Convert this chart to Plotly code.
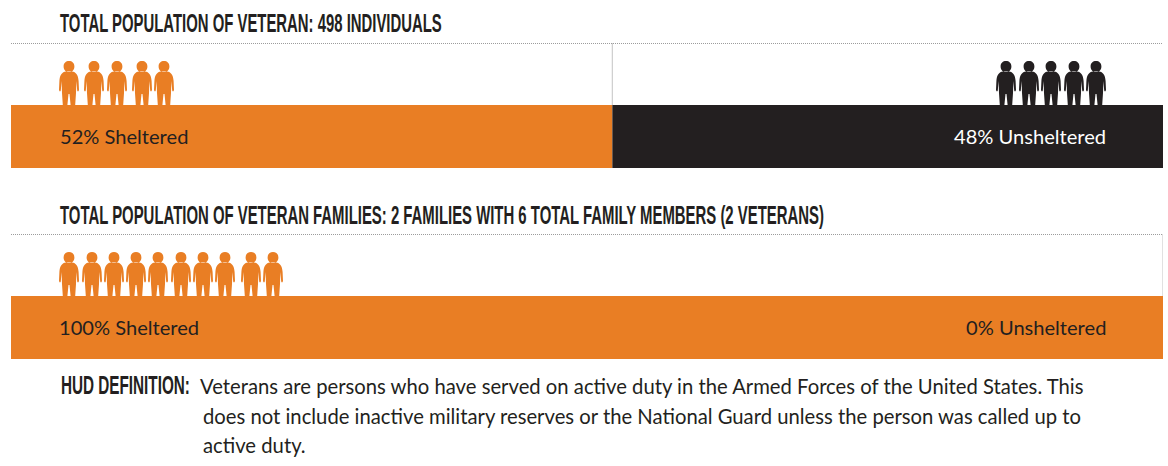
import plotly.graph_objects as go

W, H = 1168, 466
ORANGE, DARK, GREY = "#E97E24", "#231F20", "#9C9C9C"
HEAD_FONT = "Liberation Sans"
BODY_FONT = "Lato"
BAR_SIZE = 20.1
BODY_SIZE = 20.25
HEAD_SIZE = 25

# data
groups = ["Veteran individuals", "Veteran families"]
sheltered = [52.2, 100]
unsheltered = [47.8, 0]
sheltered_labels = ["52% Sheltered", "100% Sheltered"]
unsheltered_labels = ["48% Unsheltered", "0% Unsheltered"]
headers = ["TOTAL POPULATION OF VETERAN: 498 INDIVIDUALS",
           "TOTAL POPULATION OF VETERAN FAMILIES: 2 FAMILIES WITH 6 TOTAL FAMILY MEMBERS (2 VETERANS)"]
definition_label = "HUD DEFINITION:"
definition_lines = ["Veterans are persons who have served on active duty in the Armed Forces of the United States. This",
                    "does not include inactive military reserves or the National Guard unless the person was called up to",
                    "active duty."]

# layout (pixels)
icons_sheltered_1 = [69, 94, 117, 142, 164]
icons_unsheltered_1 = [1006, 1029, 1051, 1074, 1096]
icons_sheltered_2 = [69, 92, 114, 136, 158, 181, 203, 225, 251, 273]
condensed_widths = {headers[0]: 382, headers[1]: 764, definition_label: 129}


def ypaper(px):
    return 1 - px / H


fig = go.Figure()
for i, (axis, g) in enumerate(zip(["y", "y2"], groups)):
    fig.add_trace(go.Bar(x=[sheltered[i]], y=[g], orientation="h", width=1, marker=dict(color=ORANGE, line_width=0),
                         xaxis="x", yaxis=axis, showlegend=False))
    fig.add_trace(go.Bar(x=[unsheltered[i]], y=[g], base=[sheltered[i]], orientation="h", width=1,
                         marker=dict(color=DARK, line_width=0), xaxis="x", yaxis=axis, showlegend=False))

shapes = []


def person(cx, top, color):
    def p(x, y):
        return f"{cx + x:.1f},{top + y:.1f}"
    r = 5.4
    head = (f"M{p(-r, r)} C{p(-r, 2)} {p(-3, 0)} {p(0, 0)} C{p(3, 0)} {p(r, 2)} {p(r, r)} "
            f"C{p(r, 9)} {p(3, 11)} {p(0, 11)} C{p(-3, 11)} {p(-r, 9)} {p(-r, r)} Z ")
    body = (f"M{p(-3, 10.5)} C{p(-7, 11)} {p(-9.3, 14)} {p(-9.6, 20)} L{p(-10, 29)} Q{p(-9.2, 31.5)} {p(-8.2, 29.5)} "
            f"L{p(-7.4, 20)} L{p(-7, 32)} L{p(-6.2, 44)} L{p(-1.6, 44)} L{p(-0.5, 33)} L{p(0.5, 33)} L{p(1.6, 44)} "
            f"L{p(6.2, 44)} L{p(7, 32)} L{p(7.4, 20)} L{p(8.2, 29.5)} Q{p(9.2, 31.5)} {p(10, 29)} L{p(9.6, 20)} "
            f"C{p(9.3, 14)} {p(7, 11)} {p(3, 10.5)} Z")
    shapes.append(dict(type="path", xref="x3", yref="y3", path=head + body, fillcolor=color, line_width=0, layer="above"))


for c in icons_sheltered_1:
    person(c, 61, ORANGE)
for c in icons_unsheltered_1:
    person(c, 61, DARK)
for c in icons_sheltered_2:
    person(c, 252, ORANGE)

dots = dict(color=GREY, width=1.2, dash="1px,1px")
for y0, y1, pct in [(43.5, 105, sheltered[0]), (234.5, 296, sheltered[1])]:
    shapes.append(dict(type="line", xref="x3", yref="y3", x0=11, x1=1163, y0=y0, y1=y0, line=dots))
    shapes.append(dict(type="line", xref="x", yref="y3", x0=pct, x1=pct, y0=y0, y1=y1, line=dots))


def label(x, y, text, font, size, color=DARK, anchor="left", weight="normal"):
    return dict(xref="x3", yref="y3", x=x, y=y, text=text, showarrow=False, xanchor=anchor, yanchor="middle",
                align=anchor, font=dict(family=font, size=size, color=color, weight=weight))


annotations = [
    label(58, 23, headers[0], HEAD_FONT, HEAD_SIZE, weight="bold"),
    label(58, 214.5, headers[1], HEAD_FONT, HEAD_SIZE, weight="bold"),
    label(57.5, 136, sheltered_labels[0], BODY_FONT, BAR_SIZE),
    label(1107.5, 136, unsheltered_labels[0], BODY_FONT, BAR_SIZE, "#FFFFFF", "right"),
    label(57, 327, sheltered_labels[1], BODY_FONT, BAR_SIZE),
    label(1107.5, 327, unsheltered_labels[1], BODY_FONT, BAR_SIZE, DARK, "right"),
    label(59, 384.5, definition_label, HEAD_FONT, 26, weight="bold"),
    label(198, 386, definition_lines[0], BODY_FONT, BODY_SIZE),
    label(201, 416, definition_lines[1], BODY_FONT, BODY_SIZE),
    label(201, 445, definition_lines[2], BODY_FONT, BODY_SIZE),
]

hidden = dict(visible=False, fixedrange=True)
fig.update_layout(
    width=W, height=H, margin=dict(l=0, r=0, t=0, b=0), paper_bgcolor="white", plot_bgcolor="rgba(0,0,0,0)",
    barmode="overlay", shapes=shapes, annotations=annotations,
    xaxis=dict(domain=[11 / W, 1163 / W], range=[0, 100], **hidden),
    yaxis=dict(domain=[ypaper(168), ypaper(105)], range=[-0.5, 0.5], type="category", **hidden),
    yaxis2=dict(domain=[ypaper(359), ypaper(296)], range=[-0.5, 0.5], type="category", anchor="x", **hidden),
    xaxis3=dict(domain=[0, 1], range=[0, W], anchor="y3", **hidden),
    yaxis3=dict(domain=[0, 1], range=[H, 0], anchor="x3", **hidden),
)
fig.add_trace(go.Scatter(x=[0], y=[0], xaxis="x3", yaxis="y3", mode="markers", marker=dict(opacity=0),
                         showlegend=False, hoverinfo="skip"))

# No condensed face is installed: narrow the heading glyphs to the reference's widths
# with a horizontal scale, and shrink each annotation's background box to match.
squeeze = "".join(
    f"document.querySelectorAll('.annotation-text').forEach(function(t){{"
    f"if(t.textContent==={text!r}){{var b=t.getBBox();var s={w}/b.width;"
    f"t.setAttribute('transform','translate('+b.x+',0) scale('+s+',1) translate('+(-b.x)+',0)');"
    f"t.closest('.annotation').querySelectorAll('rect').forEach(function(r){{r.setAttribute('width','{w}');}});}}}});"
    for text, w in condensed_widths.items())
fig.write_html("out.html", config=dict(displayModeBar=False),
               post_script="document.body.style.margin='0';" + squeeze)
